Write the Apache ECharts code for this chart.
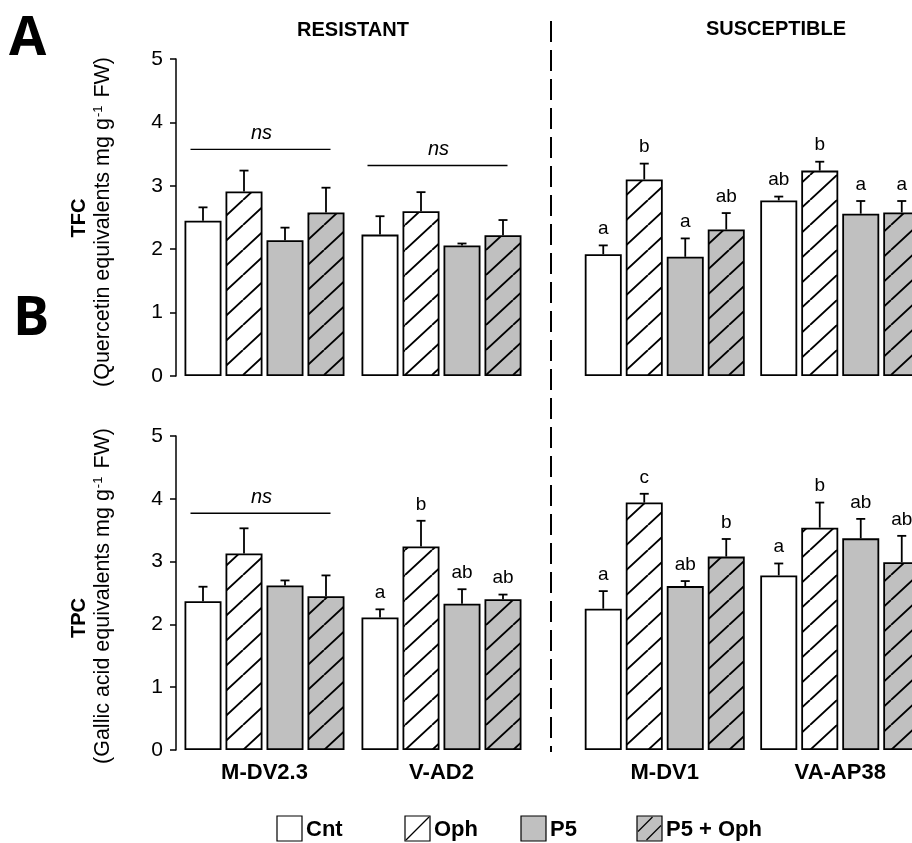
<!DOCTYPE html>
<html><head><meta charset="utf-8">
<script src="https://cdn.jsdelivr.net/npm/echarts@6/dist/echarts.min.js"></script>
<style>html,body{margin:0;padding:0;background:#fff}#c{width:912px;height:843px}</style>
</head><body><div id="c"></div>
<script>
// ---------------- DATA ----------------
const treatments = ['Cnt', 'Oph', 'P5', 'P5 + Oph'];
const resistantCultivars = ['M-DV2.3', 'V-AD2'];
const susceptibleCultivars = ['M-DV1', 'VA-AP38'];
const yTickValues = [0, 1, 2, 3, 4, 5];

// TFC (panel A), order: M-DV2.3, V-AD2, M-DV1, VA-AP38
const tfcCnt     = [2.45, 2.23, 1.92, 2.77];
const tfcOph     = [2.91, 2.60, 3.10, 3.24];
const tfcP5      = [2.14, 2.06, 1.88, 2.56];
const tfcP5Oph   = [2.58, 2.22, 2.31, 2.58];
const tfcCntErr  = [0.21, 0.29, 0.14, 0.06];
const tfcOphErr  = [0.33, 0.30, 0.25, 0.14];
const tfcP5Err   = [0.20, 0.03, 0.29, 0.20];
const tfcP5OphErr= [0.39, 0.24, 0.26, 0.18];
const tfcCntLet  = ['', '', 'a', 'ab'];
const tfcOphLet  = ['', '', 'b', 'b'];
const tfcP5Let   = ['', '', 'a', 'a'];
const tfcP5OphLet= ['', '', 'ab', 'a'];
const tfcNsCultivars = ['M-DV2.3', 'V-AD2'];
const tfcNsLevels = [3.575, 3.32];

// TPC (panel B)
const tpcCnt     = [2.37, 2.11, 2.25, 2.78];
const tpcOph     = [3.13, 3.24, 3.94, 3.54];
const tpcP5      = [2.62, 2.33, 2.61, 3.37];
const tpcP5Oph   = [2.45, 2.40, 3.08, 2.99];
const tpcCntErr  = [0.23, 0.13, 0.28, 0.19];
const tpcOphErr  = [0.40, 0.41, 0.14, 0.40];
const tpcP5Err   = [0.08, 0.23, 0.08, 0.31];
const tpcP5OphErr= [0.33, 0.075, 0.28, 0.42];
const tpcCntLet  = ['', 'a', 'a', 'a'];
const tpcOphLet  = ['', 'b', 'c', 'b'];
const tpcP5Let   = ['', 'ab', 'ab', 'ab'];
const tpcP5OphLet= ['', 'ab', 'b', 'ab'];
const tpcNsCultivars = ['M-DV2.3'];
const tpcNsLevels = [3.77];

// ---------------- STYLE ----------------
const FONT = "'Liberation Sans', Arial, Helvetica, sans-serif";
const GRAY = '#c0c0c0';
const BAR_W = 37, BAR_GAP = 4, CAP = 4.5;

function hatch(bg) {
  const W = 27, H = 25;
  const c = document.createElement('canvas');
  c.width = W; c.height = H;
  const g = c.getContext('2d');
  g.fillStyle = bg; g.fillRect(0, 0, W, H);
  g.strokeStyle = '#000'; g.lineWidth = 1.9;
  g.beginPath();
  g.moveTo(-W, H); g.lineTo(0, 0);
  g.moveTo(0, H); g.lineTo(W, 0);
  g.moveTo(W, H); g.lineTo(2 * W, 0);
  g.stroke();
  return { image: c, repeat: 'repeat' };
}
const fills = ['#ffffff', hatch('#ffffff'), GRAY, hatch(GRAY)];

const panels = [
  { key: 'A', means: [tfcCnt, tfcOph, tfcP5, tfcP5Oph], errs: [tfcCntErr, tfcOphErr, tfcP5Err, tfcP5OphErr],
    lets: [tfcCntLet, tfcOphLet, tfcP5Let, tfcP5OphLet], ns: [tfcNsCultivars, tfcNsLevels], top: 59, height: 317 },
  { key: 'B', means: [tpcCnt, tpcOph, tpcP5, tpcP5Oph], errs: [tpcCntErr, tpcOphErr, tpcP5Err, tpcP5OphErr],
    lets: [tpcCntLet, tpcOphLet, tpcP5Let, tpcP5OphLet], ns: [tpcNsCultivars, tpcNsLevels], top: 436, height: 314 }
];
const sides = [
  { cultivars: resistantCultivars, offset: 0, left: 176, width: 354, showY: true },
  { cultivars: susceptibleCultivars, offset: 2, left: 577, width: 351, showY: false }
];

const grid = [], xAxis = [], yAxis = [], series = [];
panels.forEach((p, pi) => {
  sides.forEach((s, si) => {
    const gi = grid.length;
    grid.push({ left: s.left, top: p.top, width: s.width, height: p.height, containLabel: false, outerBoundsMode: 'none' });
    xAxis.push({
      type: 'category', gridIndex: gi, data: s.cultivars,
      axisLine: { show: false }, axisTick: { show: false },
      axisLabel: { show: pi === 1, color: '#000', fontFamily: FONT, fontWeight: 'bold', fontSize: 22, margin: 12 }
    });
    yAxis.push({
      type: 'value', gridIndex: gi, min: yTickValues[0], max: yTickValues[yTickValues.length - 1], interval: 1,
      show: s.showY,
      axisLine: { show: true, lineStyle: { color: '#000', width: 1.5 } },
      axisTick: { show: true, length: 6, lineStyle: { color: '#000', width: 1.5 } },
      axisLabel: { color: '#000', fontFamily: FONT, fontSize: 21, margin: 13 },
      splitLine: { show: false }
    });
    treatments.forEach((t, ti) => {
      series.push({
        type: 'bar', name: t, xAxisIndex: gi, yAxisIndex: gi,
        data: p.means[ti].slice(s.offset, s.offset + 2),
        barWidth: BAR_W, barGap: (BAR_GAP / BAR_W * 100).toFixed(1) + '%',
        itemStyle: { color: fills[ti], borderColor: '#000', borderWidth: 1.8 },
        silent: true, animation: false, z: 2
      });
    });
    // error bars + letters
    const items = [];
    for (let c = 0; c < 2; c++) for (let ti = 0; ti < 4; ti++) {
      const k = s.offset + c;
      items.push({ cat: c, t: ti, mean: p.means[ti][k], err: p.errs[ti][k], letter: p.lets[ti][k] });
    }
    series.push({
      type: 'custom', xAxisIndex: gi, yAxisIndex: gi, silent: true, animation: false, z: 5,
      data: items.map(d => [d.cat, d.mean + d.err]),
      renderItem: (params, api) => {
        const it = items[params.dataIndex];
        const base = api.coord([it.cat, it.mean]);
        const top = api.coord([it.cat, it.mean + it.err]);
        const x = base[0] + (it.t - 1.5) * (BAR_W + BAR_GAP);
        const ls = { stroke: '#000', lineWidth: 1.8 };
        const ch = [
          { type: 'line', shape: { x1: x, y1: base[1], x2: x, y2: top[1] }, style: ls },
          { type: 'line', shape: { x1: x - CAP, y1: top[1], x2: x + CAP, y2: top[1] }, style: ls }
        ];
        if (it.letter) ch.push({ type: 'text', x: x, y: top[1] - 7,
          style: { text: it.letter, fill: '#000', fontSize: 19, fontFamily: FONT, align: 'center', verticalAlign: 'bottom' } });
        return { type: 'group', children: ch };
      }
    });
    // ns lines
    if (si === 0) {
      const nsItems = p.ns[0].map((cv, i) => ({ cat: s.cultivars.indexOf(cv), v: p.ns[1][i] }));
      series.push({
        type: 'custom', xAxisIndex: gi, yAxisIndex: gi, silent: true, animation: false, z: 5,
        data: nsItems.map(d => [d.cat, d.v]),
        renderItem: (params, api) => {
          const it = nsItems[params.dataIndex];
          const c = api.coord([it.cat, it.v]);
          return { type: 'group', children: [
            { type: 'line', shape: { x1: c[0] - 74, y1: c[1], x2: c[0] + 66, y2: c[1] }, style: { stroke: '#000', lineWidth: 1.3 } },
            { type: 'text', x: c[0] - 3, y: c[1] - 6,
              style: { text: 'ns', fill: '#000', fontSize: 20, fontStyle: 'italic', fontFamily: FONT, align: 'center', verticalAlign: 'bottom' } }
          ] };
        }
      });
    }
  });
});

// ---------------- GRAPHIC (titles, legend, separators) ----------------
const graphic = [];
const LETTER_FONT = "'Open Sans', " + FONT;
graphic.push({ type: 'text', left: 9, top: 13, style: { text: 'A', fontSize: 54, fontWeight: 'bold', fontFamily: LETTER_FONT, fill: '#000' } });
graphic.push({ type: 'text', left: 13, top: 293, style: { text: 'B', fontSize: 54, fontWeight: 'bold', fontFamily: LETTER_FONT, fill: '#000' } });
graphic.push({ type: 'text', x: 353, y: 30, style: { text: 'RESISTANT', fontSize: 20, fontWeight: 'bold', fontFamily: FONT, fill: '#000', align: 'center', verticalAlign: 'middle' } });
graphic.push({ type: 'text', x: 776, y: 29, style: { text: 'SUSCEPTIBLE', fontSize: 20, fontWeight: 'bold', fontFamily: FONT, fill: '#000', align: 'center', verticalAlign: 'middle' } });
graphic.push({ type: 'line', shape: { x1: 551, y1: 21, x2: 551, y2: 752 }, style: { stroke: '#000', lineWidth: 2, lineDash: [21, 8] } });

function yTitle(x1, y1, bold, x2, y2, pre, post) {
  graphic.push({ type: 'text', x: x1, y: y1, rotation: Math.PI / 2,
    style: { text: bold, fontSize: 20, fontWeight: 'bold', fontFamily: FONT, fill: '#000', align: 'center', verticalAlign: 'middle' } });
  graphic.push({ type: 'text', x: x2, y: y2, rotation: Math.PI / 2,
    style: { text: '{n|' + pre + '}{s|-1}{n|' + post + '}', align: 'center', verticalAlign: 'middle', fill: '#000',
      rich: { n: { fontSize: 21.5, fontFamily: FONT, fill: '#000' },
              s: { fontSize: 13, fontFamily: FONT, fill: '#000', verticalAlign: 'top', padding: [0, 2, 0, 1] } } } });
}
yTitle(79, 218, 'TFC', 103, 222, '(Quercetin equivalents mg g', ' FW)');
yTitle(79, 618, 'TPC', 103, 596, '(Gallic acid equivalents mg g', ' FW)');

const legendBoxes = [277, 405, 521, 637];
const LEG_Y = 816, LEG_S = 25;
treatments.forEach((t, i) => {
  const x0 = legendBoxes[i];
  graphic.push({ type: 'rect', shape: { x: x0, y: LEG_Y, width: LEG_S, height: LEG_S },
    style: { fill: (i >= 2 ? GRAY : '#fff'), stroke: '#000', lineWidth: 1.2 } });
  if (i === 1) graphic.push({ type: 'line', shape: { x1: x0 + 1, y1: LEG_Y + LEG_S - 1, x2: x0 + LEG_S - 1, y2: LEG_Y + 1 }, style: { stroke: '#000', lineWidth: 1.3 } });
  if (i === 3) {
    graphic.push({ type: 'line', shape: { x1: x0 + 1, y1: LEG_Y + LEG_S * 0.62, x2: x0 + LEG_S * 0.62, y2: LEG_Y + 1 }, style: { stroke: '#000', lineWidth: 1.3 } });
    graphic.push({ type: 'line', shape: { x1: x0 + LEG_S * 0.38, y1: LEG_Y + LEG_S - 1, x2: x0 + LEG_S - 1, y2: LEG_Y + LEG_S * 0.38 }, style: { stroke: '#000', lineWidth: 1.3 } });
  }
  graphic.push({ type: 'text', x: x0 + LEG_S + 4, y: LEG_Y + LEG_S / 2 + 1,
    style: { text: t, fontSize: 22, fontWeight: 'bold', fontFamily: FONT, fill: '#000', align: 'left', verticalAlign: 'middle' } });
});

const chart = echarts.init(document.getElementById('c'), null, { renderer: 'canvas' });
chart.setOption({ animation: false, backgroundColor: '#fff', grid, xAxis, yAxis, series, graphic });
</script></body></html>
